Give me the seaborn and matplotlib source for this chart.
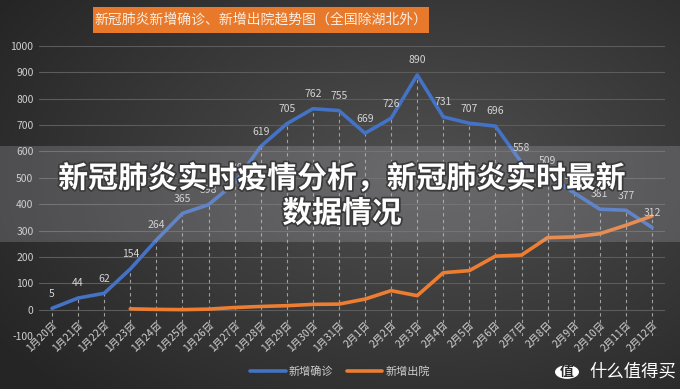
import numpy as np
import pandas as pd
import matplotlib
matplotlib.use("Agg")
import matplotlib.pyplot as plt
import matplotlib.patheffects as pe
from matplotlib.patches import Rectangle, Circle
import seaborn as sns

# ---- data ----
dates = ["1月20日", "1月21日", "1月22日", "1月23日", "1月24日", "1月25日", "1月26日",
         "1月27日", "1月28日", "1月29日", "1月30日", "1月31日", "2月1日", "2月2日",
         "2月3日", "2月4日", "2月5日", "2月6日", "2月7日", "2月8日", "2月9日",
         "2月10日", "2月11日", "2月12日"]
confirmed = [5, 44, 62, 154, 264, 365, 398, 480, 619, 705, 762, 755, 669, 726,
             890, 731, 707, 696, 558, 509, 444, 381, 377, 312]
discharged = [np.nan, np.nan, np.nan, 3, 1, 0, 2, 8, 12, 15, 20, 21, 40, 72,
              53, 140, 148, 203, 207, 273, 276, 288, 320, 355]
series_names = ["新增确诊", "新增出院"]
y_ticks = [-100, 0, 100, 200, 300, 400, 500, 600, 700, 800, 900, 1000]
title = "新冠肺炎新增确诊、新增出院趋势图（全国除湖北外）"
overlay = "新冠肺炎实时疫情分析，新冠肺炎实时最新\n数据情况"
watermark = "什么值得买"

sns.set_theme(style="dark")
plt.rcParams['font.family'] = ['Noto Sans CJK SC', 'DejaVu Sans']
plt.rcParams['axes.unicode_minus'] = False

fig = plt.figure(figsize=(6.8, 3.89), dpi=100)

# background radial gradient
bg = fig.add_axes([0, 0, 1, 1], zorder=-10)
yy, xx = np.mgrid[0:1:200j, 0:1:350j]
r = np.sqrt(((xx - 0.62) / 0.75) ** 2 + ((yy - 0.45) / 0.8) ** 2)
r = np.clip(r, 0, 1)
c0 = np.array([0x50, 0x50, 0x50]) / 255
c1 = np.array([0x25, 0x25, 0x25]) / 255
img = c0[None, None, :] * (1 - r[..., None]) + c1[None, None, :] * r[..., None]
bg.imshow(img, aspect="auto", extent=[0, 1, 0, 1], origin="upper")
bg.set_axis_off()

ax = fig.add_axes([39 / 680, 1 - 336 / 389, (665 - 39) / 680, (336 - 46) / 389])
ax.set_facecolor("none")

df = pd.DataFrame({
    "x": list(range(len(dates))) * 2,
    "value": confirmed + discharged,
    "series": [series_names[0]] * len(dates) + [series_names[1]] * len(dates),
})
palette = {series_names[0]: "#4472c4", series_names[1]: "#ed7d31"}

# drop lines
tops = [max(c, d if not np.isnan(d) else -100) for c, d in zip(confirmed, discharged)]
ax.vlines(range(len(dates)), -100, tops, colors="#a0a0a0", linestyles=(0, (3, 3)),
          linewidth=0.8, zorder=1)

sns.lineplot(data=df, x="x", y="value", hue="series", palette=palette, ax=ax,
             linewidth=2.6, legend=True, zorder=3, solid_capstyle="round",
             solid_joinstyle="round")

for i, v in enumerate(confirmed):
    ax.annotate(str(v), (i, v), xytext=(0, 7), textcoords="offset points",
                ha="center", va="bottom", fontsize=7.5, color="#d4d4d4", zorder=4)

ax.set_xlim(-0.5, len(dates) - 0.5)
ax.set_ylim(-100, 1000)
ax.set_yticks(y_ticks)
ax.set_yticklabels([str(t) for t in y_ticks], fontsize=7.5, color="#d0d0d0")
ax.set_xticks(range(len(dates)))
ax.set_xticklabels(dates, rotation=45, ha="right", rotation_mode="anchor",
                   fontsize=7.5, color="#d0d0d0")
ax.tick_params(axis="y", length=0, pad=4)
ax.tick_params(axis="x", length=0, pad=-12)
ax.grid(False)
for t in y_ticks:
    ax.axhline(t, color="#5c5c5c", linewidth=0.8, zorder=0)
for s in ax.spines.values():
    s.set_visible(False)
ax.set_xlabel("")
ax.set_ylabel("")

leg = ax.legend(loc="center", bbox_to_anchor=(340 / 680, 1 - 372 / 389),
                bbox_transform=fig.transFigure, ncol=2, frameon=False,
                fontsize=8, handlelength=3.2, columnspacing=1.2, handletextpad=0.3)
for txt in leg.get_texts():
    txt.set_color("#cfcfcf")
for h in leg.get_lines():
    h.set_linewidth(2.6)

# title box
fig.patches.append(Rectangle((93 / 680, 1 - 33 / 389), 336 / 680, 26 / 389,
                             transform=fig.transFigure, facecolor="#e8792b",
                             edgecolor="none", zorder=2))
fig.text(261 / 680, 1 - 20 / 389, title, ha="center", va="center", fontsize=10,
         color="#fbeee2", zorder=3)

# overlay band
fig.patches.append(Rectangle((0, 1 - 242 / 389), 1, 96 / 389,
                             transform=fig.transFigure, facecolor="#c8c8d2",
                             alpha=0.22, edgecolor="none", zorder=5))
fig.text(342 / 680, 1 - 196 / 389, overlay, ha="center", va="center",
         fontsize=21.5, fontweight=900, color="white", linespacing=1.2, zorder=6,
         path_effects=[pe.withStroke(linewidth=2.5, foreground="#3a3a3a")])

# watermark
fig.patches.append(Circle((567 / 680, 1 - 372 / 389), 12 / 680,
                          transform=fig.transFigure, facecolor="white",
                          edgecolor="none", zorder=6))
fig.text(567 / 680, 1 - 372 / 389, "值", ha="center", va="center", fontsize=10,
         color="#2a2a2a", fontweight="bold", zorder=7)
fig.text(589 / 680, 1 - 372 / 389, watermark, ha="left", va="center", fontsize=12.5,
         color="white", zorder=7)

fig.savefig("out.png", dpi=100)
